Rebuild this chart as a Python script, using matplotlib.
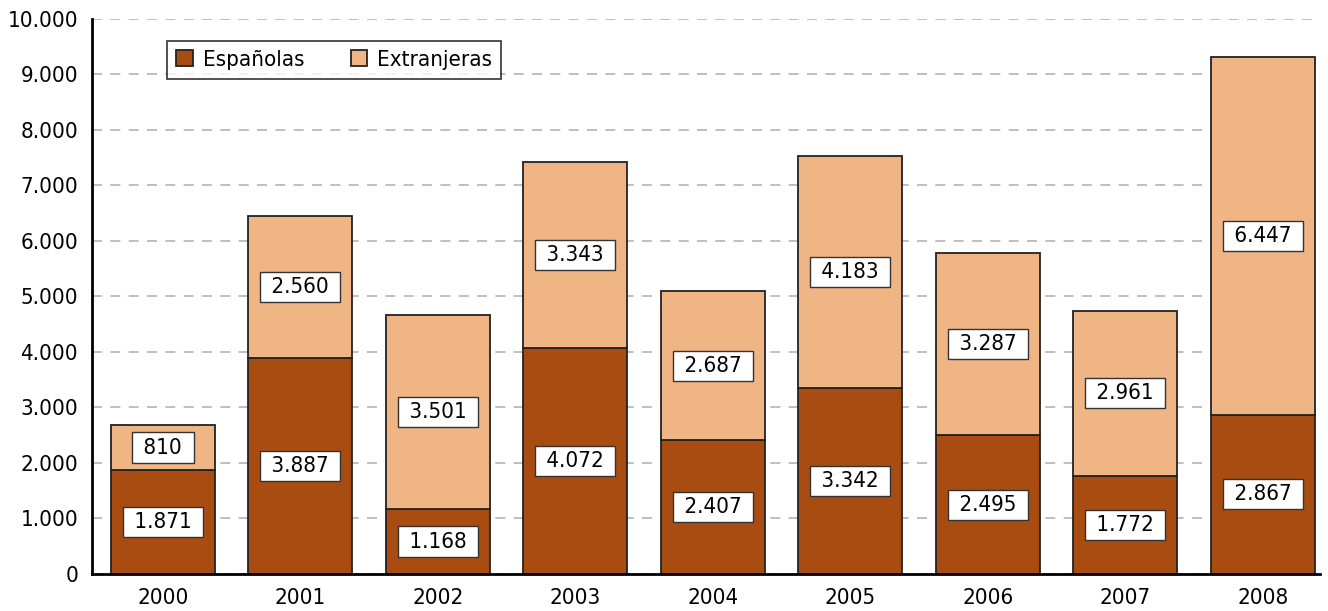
import matplotlib.pyplot as plt
import numpy as np
from matplotlib.ticker import FuncFormatter, MultipleLocator

plt.rcParams['font.family'] = ['DejaVu Sans']
plt.rcParams['font.stretch'] = 'condensed'

# Stacked bars: Spanish vs foreign, per year
years = ['2000', '2001', '2002', '2003', '2004', '2005', '2006', '2007', '2008']
espanolas = [1871, 3887, 1168, 4072, 2407, 3342, 2495, 1772, 2867]
extranjeras = [810, 2560, 3501, 3343, 2687, 4183, 3287, 2961, 6447]

color_esp = '#A84C12'
color_ext = '#EFB584'


def miles(v, pos=None):
    # thousands separator with a dot
    return f'{int(v):,}'.replace(',', '.')


fig = plt.figure(figsize=(13.28, 6.11), dpi=100)
ax = fig.add_axes([0.0693, 0.0606, 0.925, 0.909])

x = np.arange(len(years))
width = 0.755

ax.bar(x, espanolas, width, color=color_esp, edgecolor='#222222',
       linewidth=1.3, label='Españolas', zorder=3)
ax.bar(x, extranjeras, width, bottom=espanolas, color=color_ext,
       edgecolor='#222222', linewidth=1.3, label='Extranjeras', zorder=3)

box = dict(boxstyle='square,pad=0.23', facecolor='white', edgecolor='#333333', linewidth=1)
for xi, e, f in zip(x, espanolas, extranjeras):
    ax.text(xi, e / 2, ' ' + miles(e) + ' ', ha='center', va='center', fontsize=16,
            bbox=box, zorder=4)
    ax.text(xi, e + f / 2, ' ' + miles(f) + ' ', ha='center', va='center', fontsize=16,
            bbox=box, zorder=4)

ax.set_xlim(-0.515, 8.42)
ax.set_ylim(0, 10000)
ax.yaxis.set_major_locator(MultipleLocator(1000))
ax.yaxis.set_major_formatter(FuncFormatter(miles))
ax.set_xticks(x)
ax.set_xticklabels(years)

ax.grid(axis='y', color='#b4b4b4', linestyle=(0, (6, 5)), linewidth=1.2, zorder=0)
ax.tick_params(axis='both', labelsize=16, length=0)
ax.tick_params(axis='x', pad=10)
ax.tick_params(axis='y', pad=10)

for side in ['top', 'right']:
    ax.spines[side].set_visible(False)
for side in ['left', 'bottom']:
    ax.spines[side].set_linewidth(2)
    ax.spines[side].set_zorder(5)

leg = ax.legend(loc='upper left', bbox_to_anchor=(0.061, 0.96), ncol=2, fontsize=16,
                frameon=True, fancybox=False, edgecolor='black', borderpad=0.4,
                handlelength=0.75, handleheight=0.75, handletextpad=0.45,
                columnspacing=2.1, borderaxespad=0)
leg.get_frame().set_linewidth(1.2)
for h in leg.legend_handles:
    h.set_edgecolor('#222222')

plt.savefig('out.png', dpi=100)
